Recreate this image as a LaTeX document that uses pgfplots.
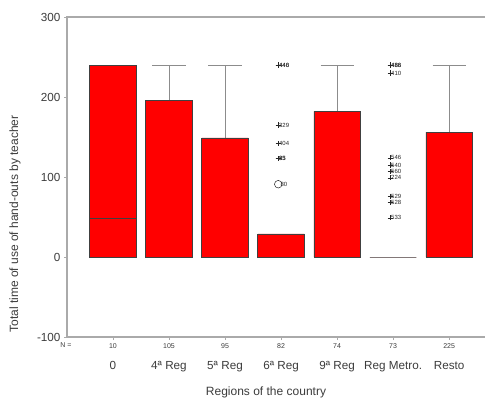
\documentclass[border=0pt]{standalone}
\usepackage{fontspec}
\setmainfont{Liberation Sans}
\usepackage{pgfplots}
\pgfplotsset{compat=1.18}
\definecolor{axgray}{RGB}{170,170,170}
\definecolor{whisk}{RGB}{140,140,140}
\definecolor{txt}{RGB}{60,60,60}
\begin{document}
\begin{tikzpicture}
\useasboundingbox (0pt,0pt) rectangle (486pt,400pt);
\begin{axis}[
  at={(67pt,63pt)}, anchor=south west, scale only axis,
  width=418pt, height=320pt,
  xmin=-0.82, xmax=6.64, ymin=-100, ymax=300,
  axis line style={draw=none},
  ytick={-100,0,100,200,300},
  xtick={0,1,2,3,4,5,6},
  xticklabels={10,105,95,82,74,73,225},
  extra x ticks={0,1,2,3,4,5,6},
  extra x tick labels={0,4ª Reg,5ª Reg,6ª Reg,9ª Reg,Reg Metro.,Resto},
  extra x tick style={major tick length=0pt, xticklabel style={font=\fontsize{11.7}{12}\selectfont, yshift=-21pt}},
  xticklabel style={font=\fontsize{7}{8}\selectfont, text=txt},
  yticklabel style={font=\fontsize{11.7}{12}\selectfont, text=txt},
  /pgf/number format/assume math mode=true,
  tick style={axgray, line width=0.8pt},
  tick align=outside, major tick length=3pt,
  ytick pos=left, xtick pos=bottom,
  unbounded coords=jump,
  clip=false,
]
% whiskers (vertical line + cap), drawn before boxes
\addplot[whisk, line width=0.9pt] coordinates {
(1,196) (1,240) (nan,nan) (0.705,240) (1.295,240) (nan,nan)
(2,149) (2,240) (nan,nan) (1.705,240) (2.295,240) (nan,nan)
(4,182) (4,240) (nan,nan) (3.705,240) (4.295,240) (nan,nan)
(6,156) (6,240) (nan,nan) (5.705,240) (6.295,240)
};
% boxes (from 0 to upper quartile)
\addplot[ybar, bar width=0.83, fill=red, draw=black!75, line width=0.6pt] coordinates {
(0,240) (1,196) (2,149) (3,29) (4,182) (5,0) (6,156)
};
% median of first group
\addplot[black!75, line width=0.6pt] coordinates {(-0.415,48) (0.415,48)};
% outliers
\addplot[only marks, mark=+, mark size=2.6pt, black!85, mark options={line width=0.6pt},
  point meta=explicit symbolic, nodes near coords,
  nodes near coords style={font=\fontsize{6}{6}\selectfont, anchor=west, inner sep=0.6pt, text=black!85}]
  table[meta=label] {
x y label
2.95 240 440
2.95 240 446
2.95 165 329
2.95 142 404
2.95 123 83
2.95 123 85
4.95 240 488
4.95 240 486
4.95 230 410
4.95 124 546
4.95 115 540
4.95 107 560
4.95 99 224
4.95 76 529
4.95 68 528
4.95 49 533
};
\addplot[only marks, mark=o, mark size=3.8pt, black!85, mark options={line width=0.5pt},
  point meta=explicit symbolic, nodes near coords,
  nodes near coords style={font=\fontsize{6}{6}\selectfont, anchor=west, inner sep=0.6pt, xshift=1.5pt, text=black!85}]
  table[meta=label] {
x y label
2.95 91 80
};
\draw[axgray, line width=2pt] (rel axis cs:1,1) -- (rel axis cs:0,1) -- (rel axis cs:0,0) -- (rel axis cs:1,0);
\end{axis}
\node[font=\fontsize{7}{8}\selectfont, text=txt] at (66pt,55pt) {N =};
\node[font=\fontsize{12}{12}\selectfont, text=txt, rotate=90] at (15pt,176pt) {Total time of use of hand-outs by teacher};
\node[font=\fontsize{12}{12}\selectfont, text=txt] at (266pt,8pt) {Regions of the country};
\end{tikzpicture}
\end{document}
